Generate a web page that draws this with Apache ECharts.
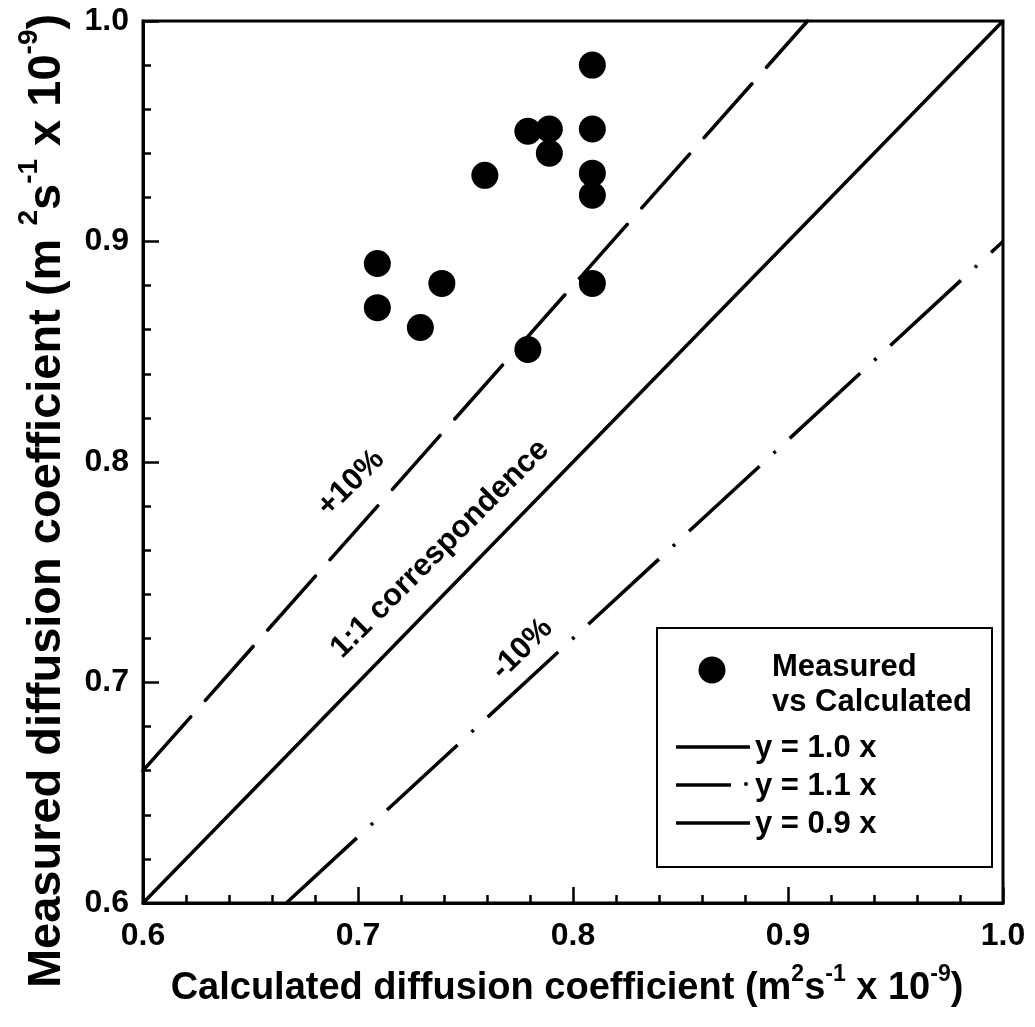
<!DOCTYPE html>
<html>
<head>
<meta charset="utf-8">
<script src="https://cdn.jsdelivr.net/npm/echarts@6/dist/echarts.min.js"></script>
<style>html,body{margin:0;padding:0;background:#fff}#c{width:1035px;height:1027px}</style>
</head>
<body>
<div id="c"></div>
<script>
// ---- data ----
var calculated = [0.709, 0.709, 0.729, 0.739, 0.759, 0.779, 0.779, 0.789, 0.789, 0.809, 0.809, 0.809, 0.809, 0.809];
var measured   = [0.890, 0.870, 0.861, 0.881, 0.930, 0.950, 0.851, 0.951, 0.940, 0.980, 0.951, 0.931, 0.921, 0.881];
var refSlopes = [1.0, 1.1, 0.9];
var axisMin = 0.6, axisMax = 1.0;
var tickLabels = ['0.6', '0.7', '0.8', '0.9', '1.0'];

var FONT = "'Liberation Sans', Arial, Helvetica, sans-serif";

function refLine(k) {
  // y = k x clipped to the square [axisMin, axisMax]
  var x0 = Math.max(axisMin, axisMin / k);
  var x1 = Math.min(axisMax, axisMax / k);
  return [[x0, k * x0], [x1, k * x1]];
}

var pts = calculated.map(function (c, i) { return [c, measured[i]]; });

var chart = echarts.init(document.getElementById('c'), null, {renderer: 'canvas'});

function richStyles(size) {
  return {
    m: {fontSize: size, fontWeight: 'bold', fontFamily: FONT, color: '#000', lineHeight: Math.round(size * 1.35)},
    s: {fontSize: Math.round(size * 0.6), fontWeight: 'bold', fontFamily: FONT, color: '#000', verticalAlign: 'top', lineHeight: Math.round(size * 0.6)}
  };
}

var option = {
  animation: false,
  backgroundColor: '#fff',
  grid: {left: 143, right: 32, top: 21, bottom: 124, show: true, borderColor: '#000', borderWidth: 3, backgroundColor: 'transparent'},
  xAxis: {
    type: 'value', min: axisMin, max: axisMax, interval: 0.1,
    axisLine: {show: true, lineStyle: {color: '#000', width: 3}},
    axisTick: {show: true, inside: true, length: 16, lineStyle: {color: '#000', width: 2.5}},
    minorTick: {show: true, splitNumber: 5, length: 8, lineStyle: {color: '#000', width: 2.5}},
    splitLine: {show: false},
    axisLabel: {margin: 17, fontSize: 32, fontWeight: 'bold', fontFamily: FONT, color: '#000',
      formatter: function (v) { return tickLabels[Math.round((v - axisMin) * 10)]; }}
  },
  yAxis: {
    type: 'value', min: axisMin, max: axisMax, interval: 0.1,
    axisLine: {show: true, lineStyle: {color: '#000', width: 3}},
    axisTick: {show: true, inside: true, length: 16, lineStyle: {color: '#000', width: 2.5}},
    minorTick: {show: true, splitNumber: 5, length: 8, lineStyle: {color: '#000', width: 2.5}},
    splitLine: {show: false},
    axisLabel: {margin: 14, fontSize: 32, fontWeight: 'bold', fontFamily: FONT, color: '#000',
      formatter: function (v) { return tickLabels[Math.round((v - axisMin) * 10)]; }}
  },
  series: [
    {type: 'line', data: refLine(refSlopes[0]), symbol: 'none', silent: true,
     lineStyle: {color: '#000', width: 3.5}},
    {type: 'line', data: refLine(refSlopes[1]), symbol: 'none', silent: true,
     lineStyle: {color: '#000', width: 3.5, type: [72, 22], cap: 'round'}},
    {type: 'line', data: refLine(refSlopes[2]), symbol: 'none', silent: true,
     lineStyle: {color: '#000', width: 3.5, type: [96, 19, 3, 19]}},
    {type: 'scatter', data: pts, symbol: 'circle', symbolSize: 27,
     itemStyle: {color: '#000', opacity: 1}}
  ],
  graphic: [
    // axis titles
    {type: 'text', x: 567, y: 989, z: 10,
     style: {text: '{m|Calculated diffusion coefficient (m}{s|2}{m|s}{s|-1}{m| x 10}{s|-9}{m|)}',
       rich: richStyles(38), align: 'center', verticalAlign: 'middle'}},
    {type: 'text', x: 47, y: 501, rotation: Math.PI / 2, z: 10,
     style: {text: '{m|Measured diffusion coefficient (m }{s|2}{m|s}{s|-1}{m| x 10}{s|-9}{m|)}',
       rich: richStyles(47), align: 'center', verticalAlign: 'middle'}},
    // line annotations
    {type: 'text', x: 351, y: 483, rotation: Math.PI / 4, z: 10,
     style: {text: '+10%', font: 'bold 31px ' + FONT, fill: '#000', align: 'center', verticalAlign: 'middle'}},
    {type: 'text', x: 440, y: 549, rotation: Math.PI / 4, z: 10,
     style: {text: '1:1 correspondence', font: 'bold 31px ' + FONT, fill: '#000', align: 'center', verticalAlign: 'middle'}},
    {type: 'text', x: 522, y: 649, rotation: Math.PI / 4, z: 10,
     style: {text: '-10%', font: 'bold 31px ' + FONT, fill: '#000', align: 'center', verticalAlign: 'middle'}},
    // legend
    {type: 'rect', shape: {x: 657, y: 628, width: 335, height: 239}, z: 10,
     style: {fill: '#fff', stroke: '#000', lineWidth: 2}},
    {type: 'circle', shape: {cx: 712, cy: 670, r: 13.5}, z: 11, style: {fill: '#000'}},
    {type: 'text', x: 772, y: 667, z: 11,
     style: {text: 'Measured', font: 'bold 31px ' + FONT, fill: '#000', verticalAlign: 'middle'}},
    {type: 'text', x: 772, y: 702, z: 11,
     style: {text: 'vs Calculated', font: 'bold 31px ' + FONT, fill: '#000', verticalAlign: 'middle'}},
    {type: 'line', shape: {x1: 676, y1: 747, x2: 750, y2: 747}, z: 11, style: {stroke: '#000', lineWidth: 3.5}},
    {type: 'text', x: 755, y: 748, z: 11,
     style: {text: 'y = 1.0 x', font: 'bold 31px ' + FONT, fill: '#000', verticalAlign: 'middle'}},
    {type: 'line', shape: {x1: 676, y1: 785, x2: 731, y2: 785}, z: 11, style: {stroke: '#000', lineWidth: 3.5}},
    {type: 'circle', shape: {cx: 746, cy: 784, r: 2}, z: 11, style: {fill: '#000'}},
    {type: 'text', x: 755, y: 786, z: 11,
     style: {text: 'y = 1.1 x', font: 'bold 31px ' + FONT, fill: '#000', verticalAlign: 'middle'}},
    {type: 'line', shape: {x1: 676, y1: 823, x2: 750, y2: 823}, z: 11, style: {stroke: '#000', lineWidth: 3.5}},
    {type: 'text', x: 755, y: 824, z: 11,
     style: {text: 'y = 0.9 x', font: 'bold 31px ' + FONT, fill: '#000', verticalAlign: 'middle'}}
  ]
};
chart.setOption(option);
</script>
</body>
</html>
